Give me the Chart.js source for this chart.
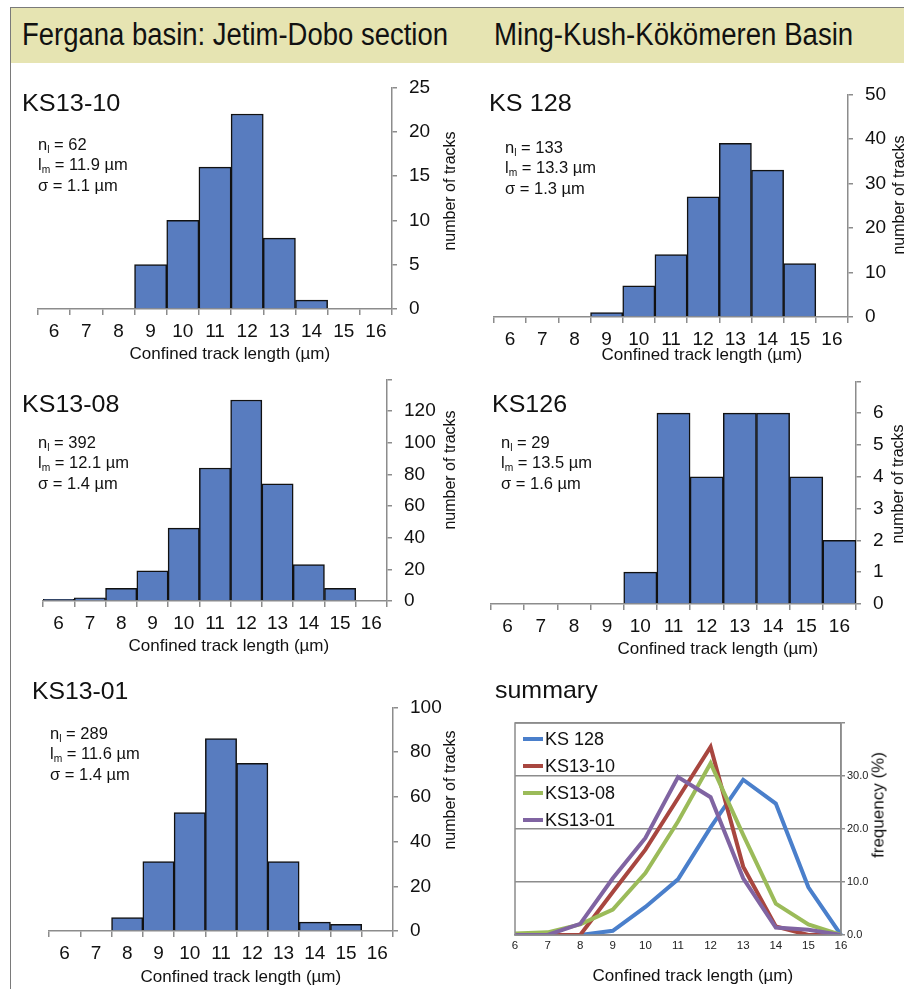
<!DOCTYPE html>
<html><head><meta charset="utf-8">
<script src="https://cdn.jsdelivr.net/npm/chart.js@4/dist/chart.umd.min.js"></script>
<style>
html,body{margin:0;padding:0;background:#fff;}
body{width:904px;height:989px;overflow:hidden;position:relative;font-family:"Liberation Sans",Arial,sans-serif;color:#111;}
#header{position:absolute;left:10px;top:7px;width:894px;height:55px;background:#E6E4B2;border-top:1px solid #7a7a7a;}
#frameLeft{position:absolute;left:10px;top:7px;width:1px;height:982px;background:#7a7a7a;}
.t{position:absolute;white-space:nowrap;line-height:1;transform-origin:left center;}
sub{font-size:62%;line-height:0;vertical-align:-0.32em;}
canvas{position:absolute;}
.sw{position:absolute;height:4px;width:20px;}
</style></head><body>
<div id="header"></div>
<div id="frameLeft"></div>
<script>
// ---------- data ----------
const binLabels = ['6','7','8','9','10','11','12','13','14','15','16'];
const ks1310Counts = [0,0,0,5,10,16,22,8,1,0,0];
const ks128Counts  = [0,0,0,1,7,14,27,39,33,12,0];
const ks1308Counts = [1,2,8,19,46,84,127,74,23,8,0];
const ks126Counts  = [0,0,0,0,1,6,4,6,6,4,2];
const ks1301Counts = [0,0,6,31,53,86,75,31,4,3,0];
const ks128Freq  = [0,0,0,0.8,5.3,10.5,20.3,29.3,24.8,9.0,0];
const ks1310Freq = [0,0,0,8.1,16.1,25.8,35.5,12.9,1.6,0,0];
const ks1308Freq = [0.3,0.5,2.0,4.8,11.7,21.4,32.4,18.9,5.9,2.0,0];
const ks1301Freq = [0,0,2.1,10.7,18.3,29.8,26.0,10.7,1.4,1.0,0];
const summaryNames = ['KS 128','KS13-10','KS13-08','KS13-01'];
const yTitle = 'number of tracks';
const xTitle = 'Confined track length (µm)';

// ---------- styling ----------
const FONT = "'Liberation Sans', Arial, sans-serif";
const BAR = '#587CBF';
const AX = '#8c8c8c';
const LINE_COLORS = ['#4A7FCB','#A8463F','#9BBB59','#8064A2'];
Chart.defaults.font.family = FONT;

const panels = [
  {counts: ks1310Counts, max:25,  step:5,  x0:38,  x1:392, yTop:80,  y0:309, hideTop:false},
  {counts: ks128Counts,  max:50,  step:10, x0:494, x1:848, yTop:87,  y0:317, hideTop:false},
  {counts: ks1308Counts, max:140, step:20, x0:43,  x1:387, yTop:372, y0:601, hideTop:true},
  {counts: ks126Counts,  max:7,   step:1,  x0:491, x1:856, yTop:374, y0:604, hideTop:true},
  {counts: ks1301Counts, max:100, step:20, x0:49,  x1:393, yTop:700, y0:931, hideTop:false}
];

function makeCanvas(x0,x1,yTop,y0,padL,padT,axW,axH){
  const cv = document.createElement('canvas');
  const w = x1-x0+padL+axW, h = y0-yTop+padT+axH;
  cv.width=w; cv.height=h;
  cv.style.left=(x0-padL)+'px'; cv.style.top=(yTop-padT)+'px';
  cv.style.width=w+'px'; cv.style.height=h+'px';
  document.body.appendChild(cv);
  return cv;
}

panels.forEach(p=>{
  const PADL=4, PADT=16, AXW=60, AXH=44;
  const cv = makeCanvas(p.x0,p.x1,p.yTop,p.y0,PADL,PADT,AXW,AXH);
  new Chart(cv,{
    type:'bar',
    data:{labels:binLabels, datasets:[{data:p.counts.map(v=>v===0?null:v),
      backgroundColor:BAR, borderColor:'#111', borderWidth:1.5,
      barPercentage:1, categoryPercentage:1}]},
    options:{responsive:false, animation:false, devicePixelRatio:1,
      layout:{padding:{left:PADL,top:PADT,right:0,bottom:0}},
      plugins:{legend:{display:false},tooltip:{enabled:false}},
      scales:{
        x:{type:'category', offset:true,
          grid:{offset:true, drawOnChartArea:false, drawTicks:true, tickLength:6, color:AX, lineWidth:1.5},
          border:{display:true,color:AX,width:1.5},
          ticks:{font:{size:19}, color:'#111', padding:5, autoSkip:false, maxRotation:0, minRotation:0},
          afterFit:s=>{s.height=AXH;}},
        y:{position:'right', min:0, max:p.max,
          grid:{drawOnChartArea:false, drawTicks:true, tickLength:5, color:AX, lineWidth:1.5},
          border:{display:true,color:AX,width:1.5},
          ticks:{stepSize:p.step, font:{size:19}, color:'#111', padding:12,
            callback:v=>(p.hideTop && v===p.max)?'':v},
          afterFit:s=>{s.width=AXW;}}
      }}
  });
});

// ---------- summary line chart ----------
const areaBorder = {id:'areaBorder', afterDraw(c){const a=c.chartArea, x=c.ctx; x.save(); x.strokeStyle=AX; x.lineWidth=1.5; x.strokeRect(a.left,a.top,a.right-a.left,a.bottom-a.top); x.restore();}};
(function(){
  const x0=515,x1=841,yTop=723,y0=935,PADL=10,PADT=10,AXW=40,AXH=22;
  const cv = makeCanvas(x0,x1,yTop,y0,PADL,PADT,AXW,AXH);
  const series=[ks128Freq,ks1310Freq,ks1308Freq,ks1301Freq];
  new Chart(cv,{
    type:'line',
    data:{labels:binLabels, datasets:series.map((d,i)=>({label:summaryNames[i], data:d,
      borderColor:LINE_COLORS[i], backgroundColor:LINE_COLORS[i], borderWidth:4, pointRadius:0,
      tension:0, fill:false, order:4-i}))},
    options:{responsive:false, animation:false, devicePixelRatio:1,
      layout:{padding:{left:PADL,top:PADT,right:0,bottom:0}},
      plugins:{legend:{display:false},tooltip:{enabled:false}},
      scales:{
        x:{type:'category', offset:false, grid:{display:false, drawTicks:false},
          border:{display:true,color:AX,width:1.5},
          ticks:{font:{size:11.5}, color:'#222', padding:4, autoSkip:false, maxRotation:0},
          afterFit:s=>{s.height=AXH;}},
        y:{position:'right', min:0, max:40,
          grid:{color:AX, lineWidth:1.5, drawTicks:true, tickLength:4},
          border:{display:true,color:AX,width:1.5},
          ticks:{stepSize:10, font:{size:11}, color:'#222', padding:2,
            callback:v=>v===40?'':v.toFixed(1)},
          afterFit:s=>{s.width=AXW;}}
      }},
    plugins:[areaBorder]
  });
  // legend (HTML)
  const legY=[739,766,793,820];
  summaryNames.forEach((n,i)=>{
    const s=document.createElement('div'); s.className='sw';
    s.style.left='523px'; s.style.top=(legY[i]-2)+'px'; s.style.background=LINE_COLORS[i];
    document.body.appendChild(s);
    addText(n,{x:545,cy:legY[i],size:18});
  });
})();

// ---------- text ----------
function addText(html,o){
  const d=document.createElement('div'); d.className='t';
  d.innerHTML=html;
  d.style.fontSize=o.size+'px';
  if(o.family) d.style.fontFamily=o.family;
  document.body.appendChild(d);
  const w=d.offsetWidth;
  if(o.rotate){
    d.style.left=o.x+'px'; d.style.top=o.cy+'px';
    d.style.transformOrigin='0 0';
    d.style.transform='rotate(-90deg) translate(-50%,-50%)';
  } else if(o.center){
    d.style.left=(o.x-w/2)+'px'; d.style.top=o.cy+'px';
    d.style.transform='translateY(-50%)';
  } else {
    d.style.left=o.x+'px'; d.style.top=o.cy+'px';
    const k=o.fitW? o.fitW/w : 1;
    d.style.transform='translateY(-50%)'+(k!==1?' scaleX('+k.toFixed(3)+')':'');
  }
  return d;
}

addText('Fergana basin: Jetim-Dobo section',{x:22,cy:34,size:31,fitW:426});
addText('Ming-Kush-Kökömeren Basin',{x:494,cy:34,size:31,fitW:359});

const titles=[['KS13-10',22,103,98],['KS 128',489,103,83],['KS13-08',22,404,97],['KS126',492,404,75],['KS13-01',32,691,96],['summary',495,690,103]];
titles.forEach(t=>addText(t[0],{x:t[1],cy:t[2],size:24,fitW:t[3]}));

const stats=[
  [38,144,'62','11.9','1.1'],
  [505,147,'133','13.3','1.3'],
  [38,442,'392','12.1','1.4'],
  [501,442,'29','13.5','1.6'],
  [50,733,'289','11.6','1.4']
];
stats.forEach(s=>{
  addText('n<sub>l</sub> = '+s[2],{x:s[0],cy:s[1],size:16.5});
  addText('l<sub>m</sub> = '+s[3]+' µm',{x:s[0],cy:s[1]+20.3,size:16.5});
  addText('σ = '+s[4]+' µm',{x:s[0],cy:s[1]+40.6,size:16.5});
});

[[230,353],[702,354],[229,645],[718,648],[241,976],[693,975]].forEach(p=>addText(xTitle,{x:p[0],cy:p[1],size:17,center:true}));
[[450,191],[899,195],[450,470],[898,484],[450,790]].forEach(p=>addText(yTitle,{x:p[0],cy:p[1],size:16,rotate:true}));
addText('frequency (%)',{x:878,cy:805,size:17,rotate:true});
</script>
</body></html>
